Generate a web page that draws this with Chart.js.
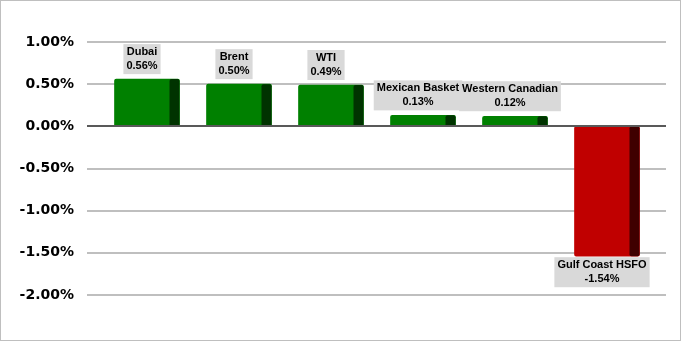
<!DOCTYPE html>
<html><head><meta charset="utf-8">
<script src="https://cdn.jsdelivr.net/npm/chart.js@4"></script>
<style>html,body{margin:0;padding:0;background:#fff}#wrap{width:681px;height:341px}</style>
</head><body><div id="wrap"><canvas id="c" width="681" height="341"></canvas></div>
<script>
const categories = ["Dubai", "Brent", "WTI", "Mexican Basket", "Western Canadian", "Gulf Coast HSFO"];
const values = [0.56, 0.50, 0.49, 0.13, 0.12, -1.54];
const yTicks = [1.0, 0.5, 0.0, -0.5, -1.0, -1.5, -2.0];

const SIDE = 10;
const frontColor = v => v >= 0 ? '#008000' : '#C00000';
const sideColor = v => v >= 0 ? '#003300' : '#3F0000';

const deco = {
  id: 'deco',
  beforeDatasetsDraw(chart) {
    const ctx = chart.ctx, y = chart.scales.y;
    ctx.save();
    yTicks.forEach(t => {
      if (t === 0) return;
      const py = Math.round(y.getPixelForValue(t));
      ctx.strokeStyle = '#BFBFBF'; ctx.lineWidth = 2;
      ctx.beginPath(); ctx.moveTo(87, py); ctx.lineTo(666, py); ctx.stroke();
    });
    ctx.restore();
  },
  afterDatasetsDraw(chart) {
    const ctx = chart.ctx, y = chart.scales.y;
    const meta = chart.getDatasetMeta(0);
    ctx.save();
    meta.data.forEach((bar, i) => {
      const v = values[i];
      const right = bar.x + bar.width / 2;
      const top = Math.min(bar.y, bar.base), bot = Math.max(bar.y, bar.base);
      ctx.fillStyle = sideColor(v);
      ctx.beginPath();
      ctx.roundRect(right - SIDE, top, SIDE, bot - top, 2);
      ctx.fill();
    });
    const py0 = Math.round(y.getPixelForValue(0));
    ctx.strokeStyle = '#595959'; ctx.lineWidth = 2;
    ctx.beginPath(); ctx.moveTo(87, py0); ctx.lineTo(666, py0); ctx.stroke();
    // labels
    ctx.font = 'bold 11px "Liberation Sans", Arial, sans-serif';
    ctx.textAlign = 'center'; ctx.textBaseline = 'middle';
    meta.data.forEach((bar, i) => {
      const v = values[i];
      const cx = bar.x - SIDE / 2;
      const l1 = categories[i], l2 = v.toFixed(2) + '%';
      const w = Math.max(ctx.measureText(l1).width, ctx.measureText(l2).width) + 6;
      const h = 30;
      let by;
      if (v >= 0) by = Math.min(bar.y, bar.base) - 5 - h;
      else by = Math.max(bar.y, bar.base) + 1;
      ctx.fillStyle = '#D9D9D9';
      ctx.fillRect(cx - w / 2, by, w, h);
      ctx.fillStyle = '#000';
      ctx.fillText(l1, cx, by + 8);
      ctx.fillText(l2, cx, by + 22);
    });
    ctx.strokeStyle = '#BFBFBF'; ctx.lineWidth = 1;
    ctx.strokeRect(0.5, 0.5, 680, 340);
    ctx.restore();
  }
};

new Chart(document.getElementById('c'), {
  type: 'bar',
  data: {
    labels: categories,
    datasets: [{
      data: values,
      backgroundColor: values.map(frontColor),
      barThickness: 65,
      borderRadius: 2,
      borderSkipped: false
    }]
  },
  options: {
    responsive: false,
    animation: false,
    layout: { padding: { top: 42, bottom: 46, left: 0, right: 28 } },
    plugins: { legend: { display: false }, tooltip: { enabled: false } },
    scales: {
      x: { display: false },
      y: {
        min: -2, max: 1,
        afterFit(s) { s.width = 101; },
        afterBuildTicks(s) { s.ticks = yTicks.map(v => ({ value: v })); },
        grid: { display: false, drawTicks: false },
        border: { display: false },
        ticks: {
          padding: 27,
          color: '#000',
          font: { family: '"DejaVu Sans", Verdana, sans-serif', size: 14, weight: 'bold' },
          callback: v => v.toFixed(2) + '%'
        }
      }
    }
  },
  plugins: [deco]
});
</script>
</body></html>
